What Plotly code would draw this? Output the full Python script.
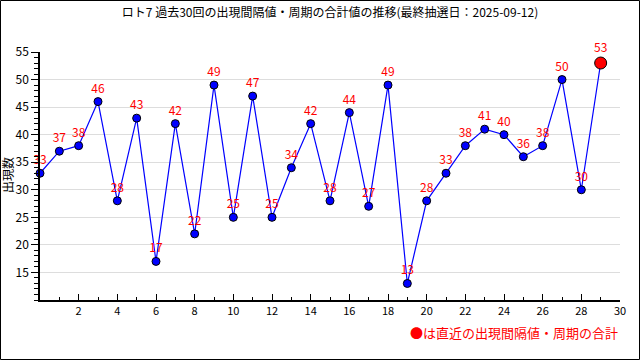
import plotly.graph_objects as go

draws = list(range(30))
values = [33, 37, 38, 46, 28, 43, 17, 42, 22, 49, 25, 47, 25, 34, 42, 28, 44, 27, 49, 13,
          28, 33, 38, 41, 40, 36, 38, 50, 30, 53]
x_ticks = list(range(2, 31, 2))
y_ticks = list(range(15, 56, 5))

title = "ロト7 過去30回の出現間隔値・周期の合計値の推移(最終抽選日：2025-09-12)"
y_title = "出現数"
note = "●は直近の出現間隔値・周期の合計"
FONT = "Noto Sans CJK JP"

W, H = 640, 360
L, R, T, B = 40, 20, 52, 60
pw, ph = W - L - R, H - T - B

colors = ["#0000ff"] * (len(values) - 1) + ["#ff0000"]
sizes = [8] * (len(values) - 1) + [12]

fig = go.Figure()
fig.add_trace(go.Scatter(
    x=draws, y=values, mode="lines+markers+text",
    line=dict(color="#0000ff", width=1.2),
    marker=dict(color=colors, size=sizes, opacity=1, line=dict(color="#000000", width=1)),
    text=[str(v) for v in values], textposition="top center",
    textfont=dict(color="#ff0000", size=12, family=FONT),
    cliponaxis=False, showlegend=False, hoverinfo="skip",
))

fig.update_layout(
    width=W, height=H, margin=dict(l=L, r=R, t=T, b=B, autoexpand=False),
    paper_bgcolor="white", plot_bgcolor="white",
    font=dict(family=FONT, size=11, color="#000000"),
    title=dict(text=title, x=0.5, xref="paper", y=1 - 13 / H, yanchor="middle",
               font=dict(size=12, family=FONT, color="#000000")),
    xaxis=dict(range=[0, 30], tickvals=x_ticks, ticks="inside", ticklen=6, tickwidth=1,
               tickcolor="#000", showgrid=False, zeroline=False, showline=True,
               linecolor="#000", linewidth=1.5, automargin=False,
               minor=dict(dtick=1, ticks="inside", ticklen=3, tickcolor="#000", showgrid=False),
               tickfont=dict(size=11)),
    yaxis=dict(range=[10, 55], tickvals=y_ticks, ticks="outside", ticklen=7, tickwidth=1,
               tickcolor="#000", showgrid=True, gridcolor="#dddddd", zeroline=False,
               showline=True, linecolor="#000", linewidth=1.5, automargin=False,
               minor=dict(dtick=1, ticks="outside", ticklen=4, tickcolor="#000", showgrid=False),
               tickfont=dict(size=12)),
)

fig.add_annotation(text=y_title, xref="paper", yref="paper", textangle=-90,
                   x=-33 / pw, y=(300 - 175) / ph, xanchor="center", yanchor="middle",
                   showarrow=False, font=dict(color="#000000", size=12, family=FONT))

fig.add_annotation(text=note, xref="paper", yref="paper",
                   x=1.0, y=-32 / ph, xanchor="right", yanchor="middle",
                   showarrow=False, font=dict(color="#ff0000", size=13, family=FONT))

fig.add_shape(type="rect", xref="paper", yref="paper",
              x0=-(L - 0.5) / pw, x1=1 + (R - 0.5) / pw,
              y0=-(B - 0.5) / ph, y1=1 + (T - 0.5) / ph,
              line=dict(color="#000000", width=1))

fig.write_html("out.html", config={"displayModeBar": False},
               post_script="document.body.style.margin='0';document.body.style.overflow='hidden';")
